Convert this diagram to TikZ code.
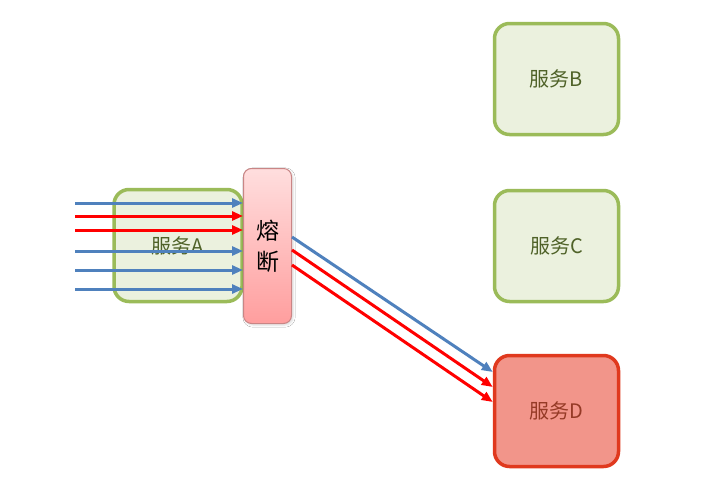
\documentclass[tikz,border=0pt]{standalone}
\usepackage{fontspec}
\setmainfont{Noto Sans CJK SC}
\usetikzlibrary{arrows.meta,shadows.blur}
\definecolor{gborder}{HTML}{9BBB59}
\definecolor{gfill}{HTML}{EBF1DE}
\definecolor{gtext}{HTML}{4F6228}
\definecolor{dborder}{HTML}{E0391E}
\definecolor{dfill}{HTML}{F2958A}
\definecolor{dtext}{HTML}{953A26}
\definecolor{ablue}{HTML}{4F81BD}
\definecolor{ared}{HTML}{FF0000}
\definecolor{fborder}{HTML}{C98585}
\definecolor{ftop}{HTML}{FFDEDE}
\definecolor{fbot}{HTML}{FF9E9E}
\tikzset{
  svc/.style={draw=gborder, fill=gfill, line width=3.5pt, rounded corners=15pt,
    minimum width=124pt, minimum height=111pt, inner sep=0pt, text=gtext, font=\fontsize{20}{24}\selectfont},
  svcd/.style={svc, draw=dborder, fill=dfill, text=dtext},
  fusebox/.style={draw=fborder, line width=1pt, rounded corners=8pt, top color=ftop, bottom color=fbot,
    minimum width=48pt, minimum height=155pt, inner sep=0pt, font=\fontsize{23}{31}\selectfont,
    align=center, blur shadow={shadow xshift=1.5pt, shadow yshift=-1.5pt, shadow blur steps=4, shadow opacity=15}},
  flow/.style={line width=3pt, -{Triangle[length=11pt,width=9pt]}},
  bluef/.style={flow, draw=ablue, color=ablue},
  redf/.style={flow, draw=ared, color=ared}
}
\begin{document}
\begin{tikzpicture}[x=1pt,y=-1pt]
\useasboundingbox[fill=white] (0,0) rectangle (701,485);
\node[svc] (B) at (556.5,79) {服务B};
\node[svc] (C) at (556.5,246) {服务C};
\node[svcd] (D) at (556.5,411) {服务D};
\node[svc, minimum width=128pt, minimum height=112pt] (A) at (178,245.5) {服务A};
% incoming
\coordinate (i1) at (75,203);
\coordinate (i2) at (75,216);
\coordinate (i3) at (75,230);
\coordinate (i4) at (75,251);
\coordinate (i5) at (75,270);
\coordinate (i6) at (75,289);
\coordinate (fw) at (243,0);
\draw[bluef] (i1) -- (fw |- i1);
\draw[redf] (i2) -- (fw |- i2);
\draw[redf] (i3) -- (fw |- i3);
\draw[bluef] (i4) -- (fw |- i4);
\draw[bluef] (i5) -- (fw |- i5);
\draw[bluef] (i6) -- (fw |- i6);
\node[fusebox] (F) at (267.5,246) {熔\\断};
% outgoing
\coordinate (o1) at (F.east |- 0,237);
\coordinate (o2) at (F.east |- 0,250);
\coordinate (o3) at (F.east |- 0,265);
\coordinate (e1) at (D.west |- 0,372);
\coordinate (e2) at (D.west |- 0,387);
\coordinate (e3) at (D.west |- 0,402);
\draw[bluef] (o1) -- (e1);
\draw[redf] (o2) -- (e2);
\draw[redf] (o3) -- (e3);
\end{tikzpicture}
\end{document}
